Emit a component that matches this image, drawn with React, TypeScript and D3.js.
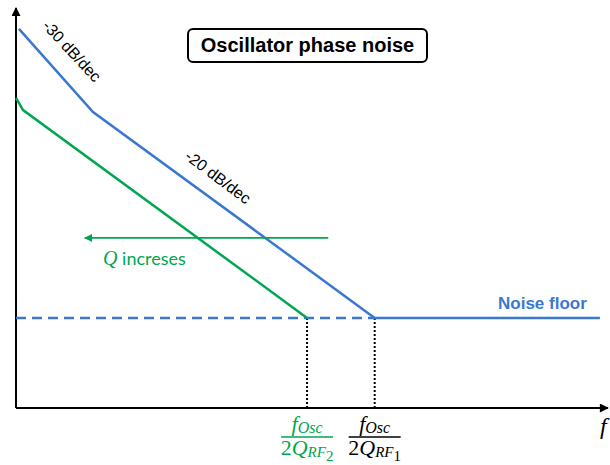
import React, { useEffect, useRef } from "react";
import * as d3 from "d3";

// phase-noise sketch, relative units (x: log freq 0-100, y: noise 0-100)
const blueFreq = [0.5, 13.1, 61.0, 99.3];
const bluePn = [97.2, 75.9, 23.1, 23.1];
const greenFreq = [0, 1.2, 49.5];
const greenPn = [79.5, 76.4, 23.1];
const noiseFloor = 23.1;
const cornerFreqs = [49.5, 61.0];
const cornerSubs = ["2", "1"];
const qArrowFrom = 53.1;
const qArrowTo = 11.7;
const qArrowLevel = 43.6;

const BLUE = "#3a78d0";
const GREEN = "#00a651";
const SANS = "'Liberation Sans', Arial, sans-serif";
const SERIF = "'Liberation Serif', 'Times New Roman', serif";

const width = 610;
const height = 465;
const origin = { x: 16, y: 408 };

const App = () => {
  const svgRef = useRef(null);

  useEffect(() => {
    const svg = d3.select(svgRef.current);
    svg.selectAll("*").remove();

    const x = d3.scaleLinear().domain([0, 100]).range([origin.x, 604]);
    const y = d3.scaleLinear().domain([0, 100]).range([origin.y, 18]);

    const defs = svg.append("defs");
    const marker = (id, color, w, h) =>
      defs
        .append("marker")
        .attr("id", id)
        .attr("viewBox", "0 0 10 10")
        .attr("refX", 9)
        .attr("refY", 5)
        .attr("markerUnits", "userSpaceOnUse")
        .attr("markerWidth", w)
        .attr("markerHeight", h)
        .attr("orient", "auto")
        .append("path")
        .attr("d", "M0,0 L10,5 L0,10 z")
        .attr("fill", color);
    marker("axisHead", "#000", 11, 9);
    marker("qHead", GREEN, 10, 8);

    // axes
    svg
      .append("line")
      .attr("x1", origin.x)
      .attr("y1", origin.y)
      .attr("x2", origin.x)
      .attr("y2", 8)
      .attr("stroke", "#000")
      .attr("stroke-width", 2)
      .attr("marker-end", "url(#axisHead)");
    svg
      .append("line")
      .attr("x1", origin.x)
      .attr("y1", origin.y)
      .attr("x2", 608)
      .attr("y2", origin.y)
      .attr("stroke", "#000")
      .attr("stroke-width", 2)
      .attr("marker-end", "url(#axisHead)");

    svg
      .append("text")
      .attr("x", 600)
      .attr("y", 434)
      .attr("font-family", SERIF)
      .attr("font-style", "italic")
      .attr("font-size", 24)
      .text("f");

    // dotted drops at corner frequencies
    svg
      .selectAll(".drop")
      .data(cornerFreqs)
      .join("line")
      .attr("class", "drop")
      .attr("x1", (d) => x(d))
      .attr("x2", (d) => x(d))
      .attr("y1", y(noiseFloor))
      .attr("y2", origin.y)
      .attr("stroke", "#000")
      .attr("stroke-width", 2)
      .attr("stroke-dasharray", "2,2");

    // dashed noise floor extension
    svg
      .append("line")
      .attr("x1", x(0))
      .attr("x2", x(cornerFreqs[1]))
      .attr("y1", y(noiseFloor))
      .attr("y2", y(noiseFloor))
      .attr("stroke", BLUE)
      .attr("stroke-width", 2.5)
      .attr("stroke-dasharray", "10,6");

    const line = d3
      .line()
      .x((d) => x(d[0]))
      .y((d) => y(d[1]));

    svg
      .append("path")
      .attr("d", line(d3.zip(greenFreq, greenPn)))
      .attr("fill", "none")
      .attr("stroke", GREEN)
      .attr("stroke-width", 2.5);

    svg
      .append("path")
      .attr("d", line(d3.zip(blueFreq, bluePn)))
      .attr("fill", "none")
      .attr("stroke", BLUE)
      .attr("stroke-width", 2.5);

    // Q arrow
    svg
      .append("line")
      .attr("x1", x(qArrowFrom))
      .attr("x2", x(qArrowTo))
      .attr("y1", y(qArrowLevel))
      .attr("y2", y(qArrowLevel))
      .attr("stroke", GREEN)
      .attr("stroke-width", 1.8)
      .attr("marker-end", "url(#qHead)");

    const qText = svg
      .append("text")
      .attr("x", 103)
      .attr("y", 265)
      .attr("fill", GREEN);
    qText
      .append("tspan")
      .attr("font-family", SERIF)
      .attr("font-style", "italic")
      .attr("font-size", 20)
      .text("Q");
    qText
      .append("tspan")
      .attr("font-family", "Lato, 'Open Sans', sans-serif")
      .attr("font-size", 18)
      .text(" increses");

    // slope labels
    const slopeLabel = (cx, cy, angle, txt) =>
      svg
        .append("text")
        .attr("transform", `translate(${cx},${cy}) rotate(${angle})`)
        .attr("text-anchor", "middle")
        .attr("dy", "0.35em")
        .attr("font-family", SANS)
        .attr("font-size", 16)
        .text(txt);
    slopeLabel(72, 51, 47, "-30 dB/dec");
    slopeLabel(218, 177, 37, "-20 dB/dec");

    // title box
    svg
      .append("rect")
      .attr("x", 188)
      .attr("y", 29)
      .attr("width", 239)
      .attr("height", 33)
      .attr("rx", 5)
      .attr("fill", "#fff")
      .attr("stroke", "#000")
      .attr("stroke-width", 2);
    svg
      .append("text")
      .attr("x", 307.5)
      .attr("y", 52)
      .attr("text-anchor", "middle")
      .attr("font-family", SANS)
      .attr("font-weight", "bold")
      .attr("font-size", 20)
      .text("Oscillator phase noise");

    svg
      .append("text")
      .attr("x", 498)
      .attr("y", 309)
      .attr("fill", BLUE)
      .attr("font-family", SANS)
      .attr("font-weight", "bold")
      .attr("font-size", 17)
      .text("Noise floor");

    // corner frequency fractions
    cornerFreqs.forEach((f, i) => {
      const cx = x(f);
      const color = i === 0 ? GREEN : "#000";
      const g = svg
        .append("g")
        .attr("fill", color)
        .attr("font-family", SERIF)
        .attr("font-style", "italic");

      const num = g
        .append("text")
        .attr("x", cx)
        .attr("y", 431)
        .attr("text-anchor", "middle");
      num.append("tspan").attr("font-size", 22).text("f");
      num.append("tspan").attr("font-size", 16).attr("dy", 2).text("Osc");

      g.append("line")
        .attr("x1", cx - 26)
        .attr("x2", cx + 26)
        .attr("y1", 437)
        .attr("y2", 437)
        .attr("stroke", color)
        .attr("stroke-width", 1.5);

      const den = g
        .append("text")
        .attr("x", cx)
        .attr("y", 455)
        .attr("text-anchor", "middle");
      den
        .append("tspan")
        .attr("font-size", 22)
        .attr("font-style", "normal")
        .text("2");
      den.append("tspan").attr("font-size", 22).text("Q");
      den.append("tspan").attr("font-size", 15).attr("dy", 2).text("RF");
      den
        .append("tspan")
        .attr("font-size", 15)
        .attr("font-style", "normal")
        .attr("dy", 4)
        .text(cornerSubs[i]);
    });
  }, []);

  return (
    <svg
      ref={svgRef}
      width={width}
      height={height}
      style={{ position: "absolute", left: 0, top: 0, background: "#fff" }}
    ></svg>
  );
};

export default App;
